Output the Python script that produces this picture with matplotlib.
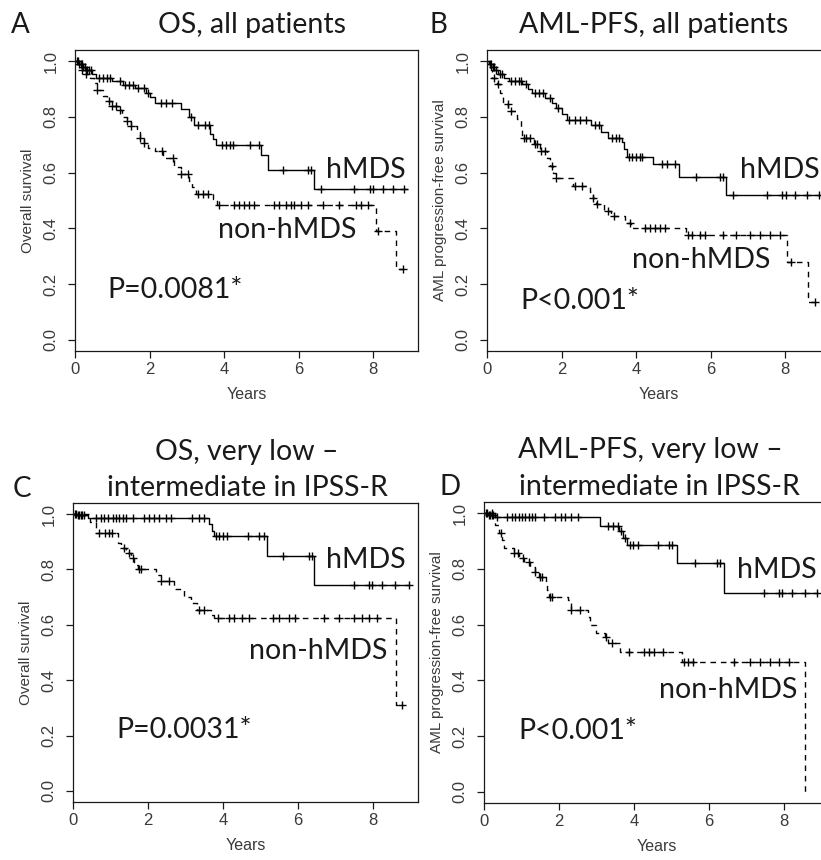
import numpy as np
import matplotlib.pyplot as plt

# Kaplan-Meier step values (years, survival) and censoring times per group

# A: OS, all patients
a_hmds_t = [0.1, 0.2, 0.3, 0.45, 0.55, 1.0, 1.3, 1.6, 1.9, 2.0, 2.15, 2.85, 3.05, 3.2, 3.62, 3.7, 3.78, 4.99, 5.17, 6.42]
a_hmds_s = [0.99, 0.98, 0.97, 0.955, 0.94, 0.93, 0.915, 0.905, 0.885, 0.87, 0.85, 0.83, 0.80, 0.77, 0.74, 0.72, 0.70, 0.665, 0.61, 0.54]
a_hmds_c = [0.05, 0.08, 0.12, 0.15, 0.18, 0.22, 0.26, 0.33, 0.38, 0.42, 0.65, 0.75, 0.85, 0.95, 1.2, 1.35, 1.45,
            1.55, 1.7, 1.85, 1.95, 2.3, 2.45, 2.6, 3.1, 3.3, 3.5, 3.6, 3.95, 4.05, 4.15, 4.25, 4.7, 4.93,
            5.58, 6.24, 6.33, 6.6, 7.48, 7.9, 8.0, 8.26, 8.53, 8.83]
a_non_t = [0.1, 0.2, 0.3, 0.4, 0.5, 0.6, 0.75, 0.85, 1.0, 1.15, 1.25, 1.4, 1.5, 1.65, 1.75, 1.85, 1.95, 2.15,
           2.35, 2.65, 2.85, 3.05, 3.15, 3.25, 3.7, 3.8, 8.07, 8.62]
a_non_s = [0.985, 0.97, 0.955, 0.94, 0.92, 0.895, 0.875, 0.857, 0.84, 0.825, 0.80, 0.785, 0.767, 0.745, 0.725,
           0.705, 0.69, 0.677, 0.652, 0.62, 0.595, 0.57, 0.55, 0.525, 0.505, 0.485, 0.39, 0.255]
a_non_c = [0.2, 0.3, 0.6, 0.9, 1.0, 1.1, 1.2, 1.4, 1.5, 1.75, 1.85, 2.33, 2.62, 2.85, 3.03, 3.3, 3.43, 3.57,
           3.87, 4.27, 4.4, 4.53, 4.67, 4.8, 5.34, 5.47, 5.66, 5.8, 5.88, 6.06, 6.25, 6.65, 7.08, 7.53, 7.67,
           7.85, 8.12, 8.79]
a_non_end = 8.79
a_hmds_end = 8.9

# B: AML-PFS, all patients
b_hmds_t = [0.05, 0.12, 0.2, 0.3, 0.45, 0.6, 0.95, 1.1, 1.2, 1.55, 1.75, 1.85, 2.0, 2.15, 2.8, 3.05, 3.25, 3.62,
            3.68, 3.76, 4.45, 5.16, 6.4]
b_hmds_s = [0.99, 0.98, 0.97, 0.955, 0.94, 0.928, 0.918, 0.90, 0.885, 0.868, 0.85, 0.832, 0.81, 0.79, 0.77,
            0.745, 0.725, 0.71, 0.685, 0.657, 0.63, 0.585, 0.52]
b_hmds_c = [0.08, 0.1, 0.15, 0.18, 0.25, 0.35, 0.4, 0.65, 0.75, 0.85, 0.9, 1.05, 1.3, 1.4, 1.5, 1.7, 1.9, 2.2,
            2.35, 2.5, 2.65, 2.9, 3.0, 3.35, 3.45, 3.55, 3.8, 3.9, 4.0, 4.1, 4.15, 4.7, 4.84, 5.03, 5.6,
            6.24, 6.32, 6.6, 7.5, 7.9, 8.03, 8.26, 8.57, 8.9]
b_non_t = [0.05, 0.1, 0.13, 0.27, 0.35, 0.43, 0.57, 0.8, 0.9, 0.95, 1.25, 1.43, 1.6, 1.7, 1.78, 1.84, 2.3, 2.75,
           2.84, 2.92, 3.15, 3.32, 3.7, 3.85, 5.33, 8.05, 8.6]
b_non_s = [0.985, 0.97, 0.94, 0.918, 0.885, 0.846, 0.821, 0.792, 0.76, 0.724, 0.703, 0.677, 0.652, 0.624, 0.60,
           0.58, 0.552, 0.53, 0.509, 0.487, 0.462, 0.444, 0.42, 0.40, 0.375, 0.28, 0.135]
b_non_c = [0.2, 0.3, 0.55, 0.65, 1.0, 1.05, 1.15, 1.3, 1.35, 1.45, 1.55, 1.75, 1.85, 2.35, 2.55, 2.85, 2.95,
           3.25, 3.4, 3.84, 4.24, 4.38, 4.51, 4.65, 4.78, 5.38, 5.51, 5.7, 5.86, 6.32, 6.68, 7.05, 7.32, 7.59,
           7.86, 8.16, 8.81]
b_non_end = 8.81
b_hmds_end = 8.9

# C: OS, very low - intermediate in IPSS-R
c_hmds_t = [0.1, 0.4, 3.62, 3.7, 3.76, 5.17, 6.42]
c_hmds_s = [0.995, 0.985, 0.965, 0.94, 0.92, 0.85, 0.745]
c_hmds_c = [0.05, 0.08, 0.12, 0.15, 0.2, 0.25, 0.3, 0.61, 0.75, 0.83, 0.93, 1.07, 1.15, 1.23, 1.34, 1.42, 1.6,
            1.9, 2.03, 2.17, 2.3, 2.49, 2.62, 3.16, 3.37, 3.5, 3.8, 3.88, 4.0, 4.1, 4.67, 4.95, 5.08, 5.6, 6.28,
            6.36, 7.48, 7.88, 7.96, 8.23, 8.58, 8.95]
c_non_t = [0.45, 0.6, 1.2, 1.28, 1.42, 1.55, 1.63, 1.73, 2.2, 2.35, 2.7, 2.95, 3.15, 3.3, 3.68, 3.77, 8.6]
c_non_s = [0.97, 0.93, 0.895, 0.877, 0.86, 0.84, 0.817, 0.80, 0.78, 0.757, 0.728, 0.70, 0.678, 0.653, 0.635,
           0.623, 0.31]
c_non_c = [0.7, 0.85, 0.95, 1.05, 1.35, 1.5, 1.6, 1.75, 1.8, 2.35, 2.55, 3.35, 3.5, 3.87, 4.17, 4.3, 4.5, 4.7,
           5.34, 5.48, 5.75, 5.91, 6.68, 7.1, 7.5, 7.7, 7.9, 8.1, 8.77]
c_non_end = 8.77
c_hmds_end = 8.95

# D: AML-PFS, very low - intermediate in IPSS-R
d_hmds_t = [0.1, 0.3, 3.1, 3.6, 3.7, 3.8, 5.15, 6.4]
d_hmds_s = [0.995, 0.985, 0.955, 0.935, 0.91, 0.885, 0.82, 0.715]
d_hmds_c = [0.05, 0.08, 0.12, 0.15, 0.2, 0.25, 0.35, 0.62, 0.75, 0.83, 0.94, 1.02, 1.1, 1.21, 1.29, 1.37, 1.61,
            1.9, 2.04, 2.15, 2.31, 2.5, 3.3, 3.44, 3.57, 3.65, 3.75, 3.9, 3.98, 4.1, 4.64, 4.92, 5.0, 5.62, 6.2,
            6.28, 7.46, 7.87, 7.95, 8.2, 8.56, 8.89]
d_non_t = [0.3, 0.4, 0.48, 0.54, 0.8, 0.94, 1.07, 1.23, 1.37, 1.47, 1.64, 1.69, 1.72, 2.23, 2.31, 2.77, 2.82,
           2.98, 3.22, 3.3, 3.62, 5.28, 8.57]
d_non_s = [0.957, 0.928, 0.903, 0.875, 0.857, 0.839, 0.825, 0.806, 0.789, 0.771, 0.742, 0.724, 0.699, 0.688,
           0.652, 0.627, 0.599, 0.57, 0.556, 0.534, 0.502, 0.465, 0.0]
d_non_c = [0.2, 0.45, 0.8, 0.9, 1.03, 1.2, 1.37, 1.5, 1.55, 1.75, 1.8, 2.31, 2.57, 3.26, 3.42, 3.87, 4.27, 4.4,
           4.54, 4.78, 5.34, 5.45, 5.58, 6.66, 7.09, 7.36, 7.62, 7.87, 8.13]
d_non_end = 8.57
d_hmds_end = 8.89

titles = [["OS, all patients"], ["AML-PFS, all patients"],
          ["OS, very low \u2013", "intermediate in IPSS-R"],
          ["AML-PFS, very low \u2013", "intermediate in IPSS-R"]]
letters = ["A", "B", "C", "D"]
ylabels = ["Overall survival", "AML progression-free survival",
           "Overall survival", "AML progression-free survival"]
pvalues = ["P=0.0081*", "P<0.001*", "P=0.0031*", "P<0.001*"]

W, H = 821, 860
fig = plt.figure(figsize=(W / 100, H / 100), dpi=100)

tick_font = "Liberation Sans"
text_font = "Lato"
ink = "#1a1a1a"
grey = "#3a3a3a"


def px_box(left, top, right, bottom):
    return [left / W, 1 - bottom / H, (right - left) / W, (bottom - top) / H]


boxes = [px_box(75, 50, 418, 351), px_box(487, 50, 830, 351),
         px_box(73, 503, 418, 802), px_box(484, 502, 829, 803)]

curves = [
    (a_hmds_t, a_hmds_s, a_hmds_c, a_hmds_end, a_non_t, a_non_s, a_non_c, a_non_end),
    (b_hmds_t, b_hmds_s, b_hmds_c, b_hmds_end, b_non_t, b_non_s, b_non_c, b_non_end),
    (c_hmds_t, c_hmds_s, c_hmds_c, c_hmds_end, c_non_t, c_non_s, c_non_c, c_non_end),
    (d_hmds_t, d_hmds_s, d_hmds_c, d_hmds_end, d_non_t, d_non_s, d_non_c, d_non_end),
]

# text positions in data units: (x, y) of the group labels and the p value
hmds_xy = [(8.87, 0.58), (8.92, 0.58), (8.88, 0.805), (8.86, 0.767)]
non_xy = [(7.56, 0.366), (7.6, 0.258), (8.37, 0.477), (8.35, 0.337)]
p_xy = [(0.88, 0.15), (0.89, 0.11), (1.15, 0.19), (0.91, 0.19)]

# title baselines (px) and centres, panel letter anchors (px)
title_lines = [[(252, 33)], [(654, 33)], [(247, 460), (247, 496)], [(650, 458), (659, 495)]]
letter_xy = [(11, 33), (429, 33), (13, 497), (439, 495)]


def km_draw(ax, t, s, cens, end, dashed):
    xs = np.concatenate([[0.0], t, [end]])
    ys = np.concatenate([[1.0], s, [s[-1]]])
    ls = (0, (4, 3.5)) if dashed else "-"
    ax.step(xs, ys, where="post", color="black", lw=1.0, linestyle=ls)
    idx = np.searchsorted(t, cens, side="right") - 1
    levels = np.concatenate([[1.0], s])
    ax.plot(cens, levels[idx + 1], linestyle="none", marker="+", ms=6, mew=1.0, color="black")


for i, box in enumerate(boxes):
    ax = fig.add_axes(box)
    ht, hs, hc, he, nt, ns, nc, ne = curves[i]
    km_draw(ax, np.array(ht), np.array(hs), np.array(hc), he, False)
    km_draw(ax, np.array(nt), np.array(ns), np.array(nc), ne, True)

    ax.set_xlim(0, 9.2)
    ax.set_ylim(-0.04, 1.04)
    ax.set_xticks([0, 2, 4, 6, 8])
    ax.set_yticks([0.0, 0.2, 0.4, 0.6, 0.8, 1.0])
    ax.set_xticklabels(["0", "2", "4", "6", "8"], fontfamily=tick_font, fontsize=12, color=grey)
    ax.set_yticklabels(["0.0", "0.2", "0.4", "0.6", "0.8", "1.0"], fontfamily=tick_font, fontsize=12,
                       color=grey, rotation=90, va="center", ha="right")
    ax.tick_params(axis="both", direction="out", length=5, width=0.9, color=ink)
    ax.tick_params(axis="x", pad=3)
    ax.tick_params(axis="y", pad=7)
    for sp in ax.spines.values():
        sp.set_linewidth(0.9)
        sp.set_color(ink)
    ax.set_xlabel("Years", fontfamily=tick_font, fontsize=11.5, color=grey, labelpad=7)
    ax.set_ylabel(ylabels[i], fontfamily=tick_font, fontsize=11, color=grey, labelpad=6)

    ax.text(*hmds_xy[i], "hMDS", ha="right", va="baseline", fontfamily=text_font, fontsize=20.5, color=ink)
    ax.text(*non_xy[i], "non-hMDS", ha="right", va="baseline", fontfamily=text_font, fontsize=20.5, color=ink)
    ax.text(*p_xy[i], pvalues[i], ha="left", va="baseline", fontfamily=text_font, fontsize=20.5, color=ink)

    for line, (cx, by) in zip(titles[i], title_lines[i]):
        fig.text(cx / W, 1 - by / H, line, ha="center", va="baseline",
                 fontfamily=text_font, fontsize=20.5, color=ink)
    lx, ly = letter_xy[i]
    fig.text(lx / W, 1 - ly / H, letters[i], ha="left", va="baseline",
             fontfamily=text_font, fontsize=20, color=ink)

fig.savefig("out.png", dpi=100, facecolor="white")
